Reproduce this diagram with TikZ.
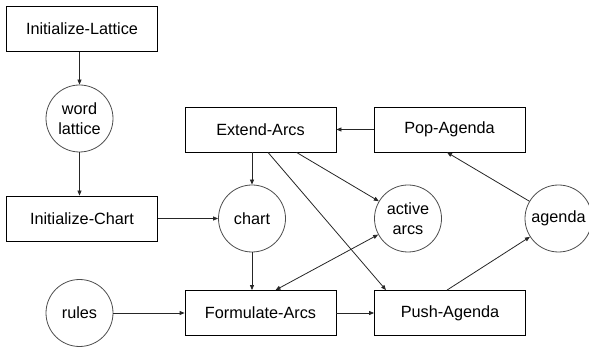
\documentclass[tikz,border=0pt]{standalone}
\usepackage{fontspec}
\setmainfont{Liberation Sans}
\usetikzlibrary{arrows.meta}
\begin{document}
\begin{tikzpicture}[x=1pt,y=-1pt,
  every node/.style={font=\fontsize{16.25}{19.5}\selectfont},
  procbox/.style={draw=black,line width=0.8pt,rectangle,minimum width=151pt,minimum height=45pt,inner sep=0pt},
  datacirc/.style={draw=black!70,line width=0.8pt,circle,minimum size=67pt,inner sep=0pt,align=center},
  conn/.style={draw=black!85,line width=0.8pt,-{Triangle[length=5pt,width=4pt]}},
  dconn/.style={draw=black!85,line width=0.8pt,{Triangle[length=5pt,width=4pt]}-{Triangle[length=5pt,width=4pt]}}]
\useasboundingbox (0,0) rectangle (589,347);
\node[procbox] (il) at (82,29) {Initialize-Lattice};
\node[datacirc] (wl) at (79.5,118.5) {word\\lattice};
\node[procbox] (ic) at (82,218.5) {Initialize-Chart};
\node[datacirc] (chart) at (252,218.5) {chart};
\node[procbox] (ea) at (260.5,129.5) {Extend-Arcs};
\node[procbox] (pa) at (449.5,129.5) {Pop-Agenda};
\node[datacirc] (aa) at (408,218.5) {active\\arcs};
\node[datacirc] (ag) at (558.5,218.5) {agenda};
\node[datacirc] (rules) at (79.5,313) {rules};
\node[procbox] (fa) at (260.5,313) {Formulate-Arcs};
\node[procbox] (pu) at (450,313) {Push-Agenda};

\draw[conn] (il.south -| wl) -- (wl);
\draw[conn] (wl) -- (wl |- ic.north);
\draw[conn] (ic) -- (chart);
\draw[conn] (ea.south -| chart) -- (chart);
\draw[conn] (pa) -- (ea);
\draw[conn] ([xshift=36pt]ea.south) -- (aa);
\draw[conn] ([xshift=7.5pt]ea.south) -- ([xshift=-64pt]pu.north);
\draw[conn] (chart) -- (chart |- fa.north);
\draw[dconn] ([xshift=15pt]fa.north) -- (aa);
\draw[conn] (rules) -- (fa);
\draw[conn] (fa) -- (pu);
\draw[conn] ([xshift=-3pt]pu.north) -- (ag);
\draw[conn] (ag) -- ([xshift=-2.5pt]pa.south);
\end{tikzpicture}
\end{document}
